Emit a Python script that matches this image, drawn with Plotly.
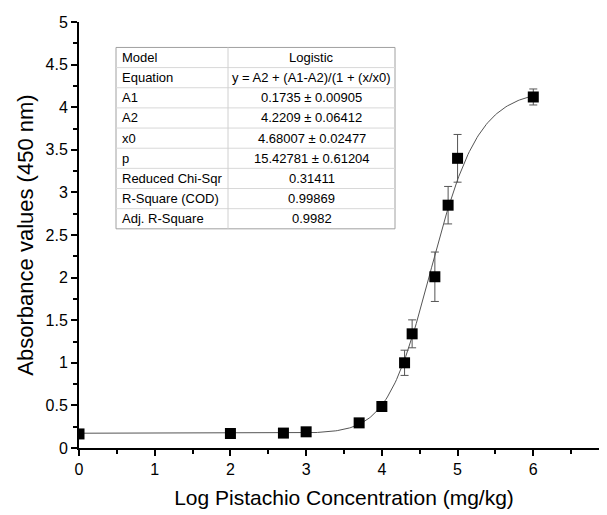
import numpy as np
import plotly.graph_objects as go

# measured points (log concentration vs absorbance)
log_conc = [0, 2, 2.7, 3, 3.7, 4, 4.3, 4.4, 4.7, 4.875, 5, 6]
absorbance = [0.165, 0.17, 0.175, 0.19, 0.295, 0.487, 1.0, 1.34, 2.01, 2.85, 3.40, 4.12]
abs_err = [0.02, 0.01, 0.01, 0.02, 0.03, 0.03, 0.148, 0.164, 0.29, 0.22, 0.28, 0.094]

# logistic fit parameters reported in the table
A1, A2, X0, P = 0.1735, 4.2209, 4.68007, 15.42781

table_keys = ["Model", "Equation", "A1", "A2", "x0", "p",
              "Reduced Chi-Sqr", "R-Square (COD)", "Adj. R-Square"]
table_vals = [
    "Logistic",
    "y = A2 + (A1-A2)/(1 + (x/x0)",
    "0.1735 ± 0.00905",
    "4.2209 ± 0.06412",
    "4.68007 ± 0.02477",
    "15.42781 ± 0.61204",
    "0.31411",
    "0.99869",
    "0.9982",
]

fit_x = np.linspace(0, 6, 300)
fit_y = A2 + (A1 - A2) / (1 + (fit_x / X0) ** P)

font = "Liberation Sans, Arial, sans-serif"

# plot area as seen on the page (the page body adds an 8px offset)
OFF = 8
L, R, T, B = 79, 609, 21.5, 448.5


def px(x):
    return (x - L) / (R - L)


def py(y):
    return (B - y) / (B - T)


fig = go.Figure()
fig.add_trace(go.Scatter(
    x=fit_x, y=fit_y, mode="lines",
    line=dict(color="#555555", width=1),
    hoverinfo="skip", showlegend=False,
))
fig.add_trace(go.Scatter(
    x=log_conc, y=absorbance, mode="markers",
    marker=dict(symbol="square", size=11, color="black"),
    error_y=dict(type="data", array=abs_err, color="#555555", thickness=1, width=4),
    showlegend=False,
))

# fit table drawn with shapes + annotations
tx0, tx1, tsplit = 116, 395, 228
ty0, row_h = 47, 20.2
n_rows = len(table_keys)
ty1 = ty0 + n_rows * row_h
shapes = [dict(type="rect", xref="paper", yref="paper",
               x0=px(tx0), x1=px(tx1), y0=py(ty1), y1=py(ty0),
               fillcolor="white", line=dict(color="#a0a0a0", width=1), layer="above")]
for i in range(1, n_rows):
    yy = py(ty0 + i * row_h)
    shapes.append(dict(type="line", xref="paper", yref="paper",
                       x0=px(tx0), x1=px(tx1), y0=yy, y1=yy,
                       line=dict(color="#d8d8d8", width=1), layer="above"))
shapes.append(dict(type="line", xref="paper", yref="paper",
                   x0=px(tsplit), x1=px(tsplit), y0=py(ty1), y1=py(ty0),
                   line=dict(color="#d0d0d0", width=1), layer="above"))

annotations = []
for i, (k, v) in enumerate(zip(table_keys, table_vals)):
    yc = py(ty0 + (i + 0.5) * row_h)
    annotations.append(dict(xref="paper", yref="paper", x=px(tx0 + 4), y=yc,
                            text=k, showarrow=False, xanchor="left", yanchor="middle",
                            font=dict(family=font, size=13, color="black")))
    annotations.append(dict(xref="paper", yref="paper", x=px((tsplit + tx1) / 2), y=yc,
                            text=v, showarrow=False, xanchor="center", yanchor="middle",
                            font=dict(family=font, size=13, color="black")))

fig.update_layout(
    width=607, height=515,
    margin=dict(l=L - OFF, r=607 + OFF - R, t=T - OFF, b=515 + OFF - B),
    plot_bgcolor="white", paper_bgcolor="white",
    font=dict(family=font, color="black"),
    shapes=shapes, annotations=annotations,
)
fig.update_xaxes(
    range=[0, 7], dtick=1, showgrid=False, zeroline=False, automargin=False,
    showline=True, linecolor="black", linewidth=2,
    ticks="outside", ticklen=6, tickwidth=1.5, tickcolor="black",
    minor=dict(dtick=0.5, ticks="outside", ticklen=4, tickwidth=1.5, tickcolor="black"),
    tickfont=dict(size=16),
    title=dict(text="Log Pistachio Concentration (mg/kg)", font=dict(size=21), standoff=13),
)
fig.update_yaxes(
    range=[0, 5], dtick=0.5, showgrid=False, zeroline=False, automargin=False,
    showline=True, linecolor="black", linewidth=2,
    ticks="outside", ticklen=6, tickwidth=1.5, tickcolor="black",
    minor=dict(dtick=0.25, ticks="outside", ticklen=4, tickwidth=1.5, tickcolor="black"),
    tickfont=dict(size=16),
    title=dict(text="Absorbance values (450 nm)", font=dict(size=22), standoff=6),
)

fig.write_html("out.html")
